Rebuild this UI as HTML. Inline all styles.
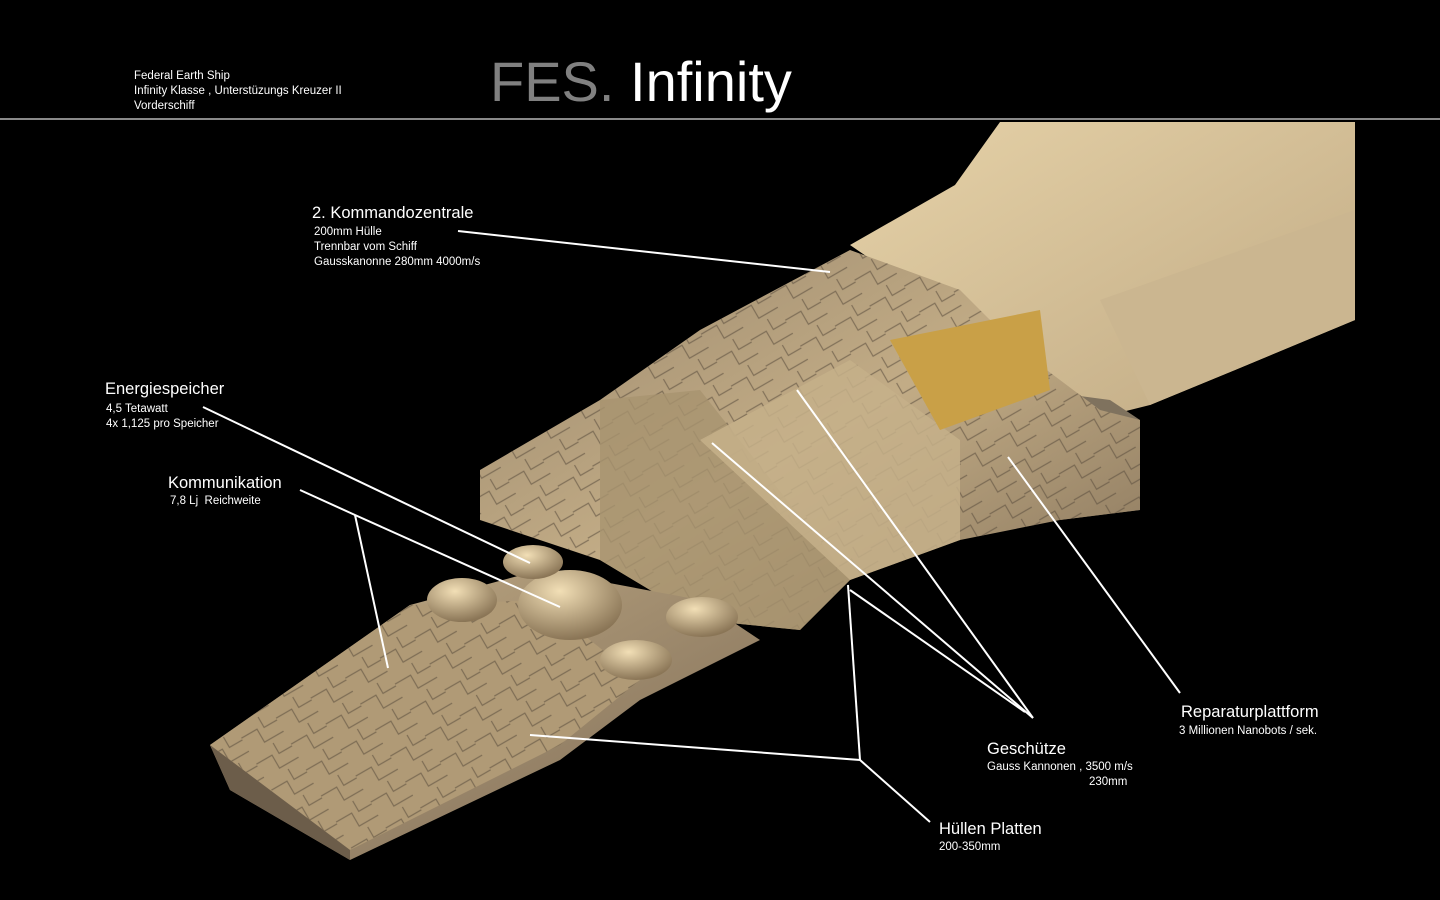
<!DOCTYPE html>
<html><head><meta charset="utf-8"><style>
html,body{margin:0;padding:0;background:#000;width:1440px;height:900px;overflow:hidden;font-family:"Liberation Sans",sans-serif;}
.t{position:absolute;color:#fff;white-space:nowrap;}
.s{font-size:11.5px;line-height:15px;}
.h{font-size:16.5px;}
</style></head><body>
<svg width="1440" height="900" style="position:absolute;left:0;top:0">
<defs>
<linearGradient id="g1" x1="0" y1="0" x2="1" y2="1"><stop offset="0" stop-color="#e6d2a8"/><stop offset="1" stop-color="#bfa983"/></linearGradient>
<linearGradient id="g2" x1="0" y1="0" x2="1" y2="1"><stop offset="0" stop-color="#9a876c"/><stop offset="0.5" stop-color="#c2ac86"/><stop offset="1" stop-color="#857259"/></linearGradient>
<linearGradient id="g3" x1="0" y1="0" x2="1" y2="1"><stop offset="0" stop-color="#c2ac86"/><stop offset="1" stop-color="#7c6a55"/></linearGradient>
<radialGradient id="d" cx="0.4" cy="0.3" r="0.7"><stop offset="0" stop-color="#f2dfb6"/><stop offset="1" stop-color="#8a7556"/></radialGradient>
<pattern id="cr" width="40" height="30" patternUnits="userSpaceOnUse" patternTransform="rotate(-30)">
<path d="M0 10 H18 V25 H40 M25 0 V12 H40" stroke="#5e5040" stroke-width="1.2" fill="none" opacity="0.6"/>
</pattern>
</defs>
<rect x="0" y="118" width="1440" height="2" fill="#8a8a8a"/>
<!-- upper hull -->
<polygon points="850,245 955,185 1000,122 1355,122 1355,320 1235,370 1150,405 1090,420 1000,380 930,300" fill="url(#g1)"/>
<polygon points="1100,300 1355,210 1355,320 1235,370 1150,405" fill="#cbb690"/>
<polygon points="960,380 1110,400 1140,420 1140,510 1060,520 980,510" fill="#7f725e"/>
<polygon points="980,440 1060,430 1060,520 980,510" fill="#3a332a"/>
<!-- middle section -->
<polygon points="480,470 600,400 700,330 850,250 960,290 1020,350 1100,410 1140,420 1140,510 1060,520 960,540 850,580 800,630 700,620 600,560 480,520" fill="url(#g2)"/>
<polygon points="480,470 600,400 700,330 850,250 960,290 1020,350 1100,410 1140,420 1140,510 1060,520 960,540 850,580 800,630 700,620 600,560 480,520" fill="url(#cr)"/>
<polygon points="600,400 700,390 850,580 800,630 700,620 600,560" fill="#a8946f" opacity="0.8"/>
<polygon points="700,440 850,360 960,440 960,540 850,580" fill="#c6b08a" opacity="0.85"/>
<polygon points="890,340 1040,310 1050,390 940,430" fill="#c9a047"/>
<!-- front platform -->
<polygon points="210,745 410,605 540,570 700,600 760,640 640,700 560,760 350,860 230,790" fill="url(#g3)"/>
<polygon points="210,745 410,605 540,600 640,680 560,745 350,850" fill="#b09a76"/>
<polygon points="210,745 410,605 540,600 640,680 560,745 350,850" fill="url(#cr)"/>
<polygon points="210,745 230,790 350,860 350,850" fill="#6c5d4a"/>
<!-- domes -->
<ellipse cx="570" cy="605" rx="52" ry="35" fill="url(#d)"/>
<ellipse cx="533" cy="562" rx="30" ry="17" fill="url(#d)"/>
<ellipse cx="462" cy="600" rx="35" ry="22" fill="url(#d)"/>
<ellipse cx="702" cy="617" rx="36" ry="20" fill="url(#d)"/>
<ellipse cx="636" cy="660" rx="36" ry="20" fill="url(#d)"/>
<!-- labels lines -->
<g stroke="#fff" stroke-width="2" fill="none">
<line x1="458" y1="231" x2="830" y2="272"/>
<line x1="203" y1="407" x2="530" y2="563"/>
<polyline points="300,490 355,515 560,607"/>
<line x1="355" y1="515" x2="388" y2="668"/>
<line x1="1033" y1="718" x2="712" y2="443"/>
<line x1="1033" y1="718" x2="797" y2="390"/>
<line x1="1025" y1="712" x2="850" y2="590"/>
<polyline points="930,822 860,760 530,735"/>
<line x1="860" y1="760" x2="848" y2="585"/>
<line x1="1180" y1="693" x2="1008" y2="457"/>
</g>
</svg>
<div class="t s" style="left:134px;top:69px">Federal Earth Ship<br>Infinity Klasse , Unterstüzungs Kreuzer II<br>Vorderschiff</div>
<div class="t" style="left:490px;top:50px;font-size:56px;line-height:64px"><span style="color:#808080">FES.</span> Infinity</div>
<div class="t h" style="left:312px;top:204px">2. Kommandozentrale</div>
<div class="t s" style="left:314px;top:225px">200mm Hülle<br>Trennbar vom Schiff<br>Gausskanonne 280mm 4000m/s</div>
<div class="t h" style="left:105px;top:380px">Energiespeicher</div>
<div class="t s" style="left:106px;top:402px">4,5 Tetawatt<br>4x 1,125 pro Speicher</div>
<div class="t h" style="left:168px;top:474px">Kommunikation</div>
<div class="t s" style="left:170px;top:494px">7,8 Lj&nbsp; Reichweite</div>
<div class="t h" style="left:1181px;top:703px">Reparaturplattform</div>
<div class="t s" style="left:1179px;top:724px">3 Millionen Nanobots / sek.</div>
<div class="t h" style="left:987px;top:740px">Geschütze</div>
<div class="t s" style="left:987px;top:760px">Gauss Kannonen , 3500 m/s</div>
<div class="t s" style="left:1089px;top:775px">230mm</div>
<div class="t h" style="left:939px;top:820px">Hüllen Platten</div>
<div class="t s" style="left:939px;top:840px">200-350mm</div>
</body></html>
